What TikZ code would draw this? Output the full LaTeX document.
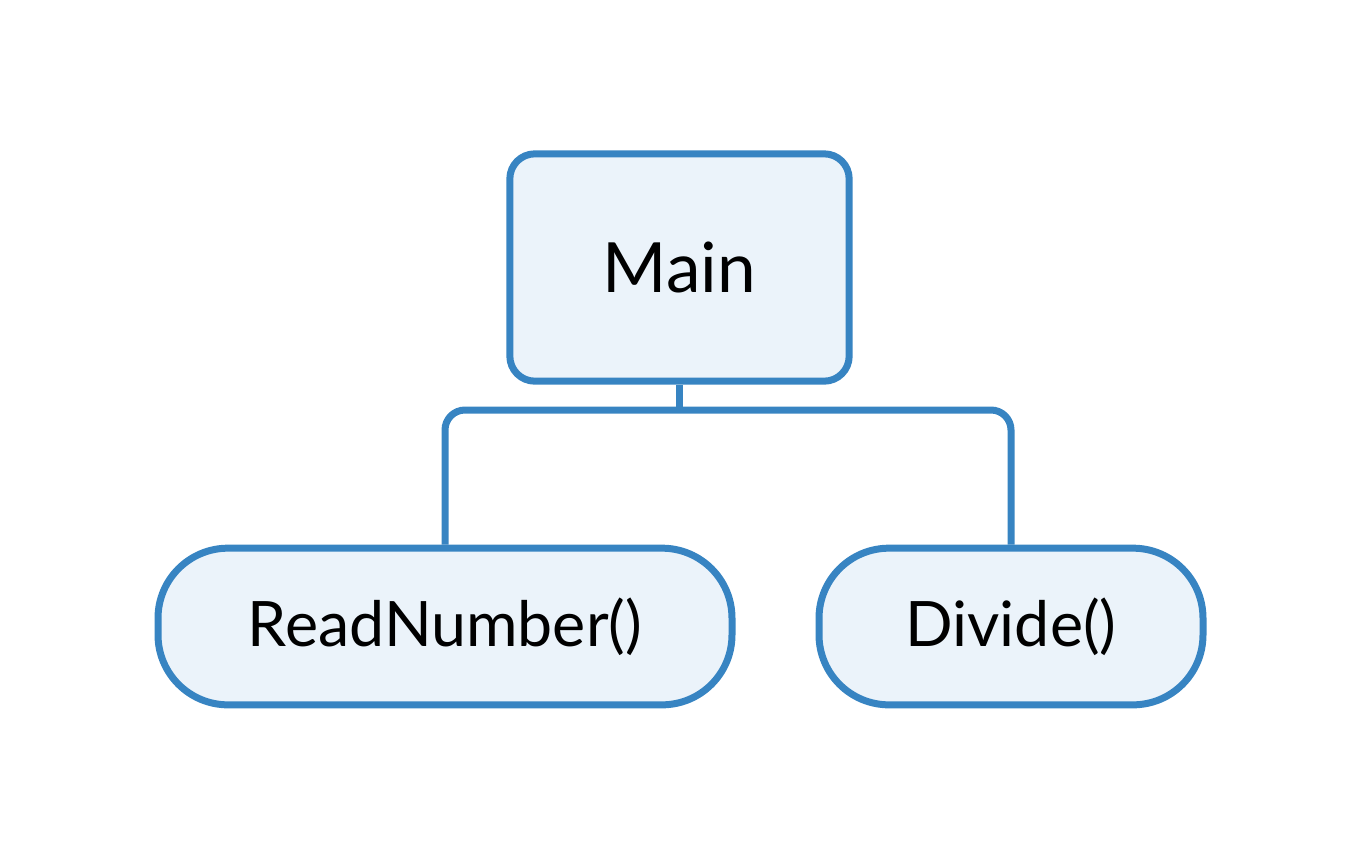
\documentclass[tikz,border=0pt]{standalone}
\usepackage{fontspec}
\setmainfont{Lato}
\definecolor{boxline}{HTML}{3784C2}
\definecolor{boxfill}{HTML}{EBF3FA}
\begin{document}
\begin{tikzpicture}[x=0.75pt,y=-0.75pt]
            \useasboundingbox (0,0) rectangle (1360,861);
            \begin{scope}[line width=5.25pt,color=boxline]

                \node [draw,fill=boxfill,text=black,rounded corners=18.75pt,minimum width=254.5pt,minimum height=170.5pt,font=\fontsize{52}{60}\selectfont] (main) at (679.5,267.5) {Main};
                \node [draw,fill=boxfill,text=black,rounded corners=52.5pt,minimum width=430.5pt,minimum height=117.5pt,font=\fontsize{47}{56}\selectfont] (read) at (445,626.5) {ReadNumber()};
                \node [draw,fill=boxfill,text=black,rounded corners=52.5pt,minimum width=288pt,minimum height=117.5pt,font=\fontsize{47}{56}\selectfont] (divide) at (1011,626.5) {Divide()};

                \coordinate (bar) at (679.5,410);
                \draw (main.south) -- (bar);
                \draw [rounded corners=15pt] (read.north) |- (bar) -| (divide.north);
            \end{scope}
        \end{tikzpicture}
\end{document}
